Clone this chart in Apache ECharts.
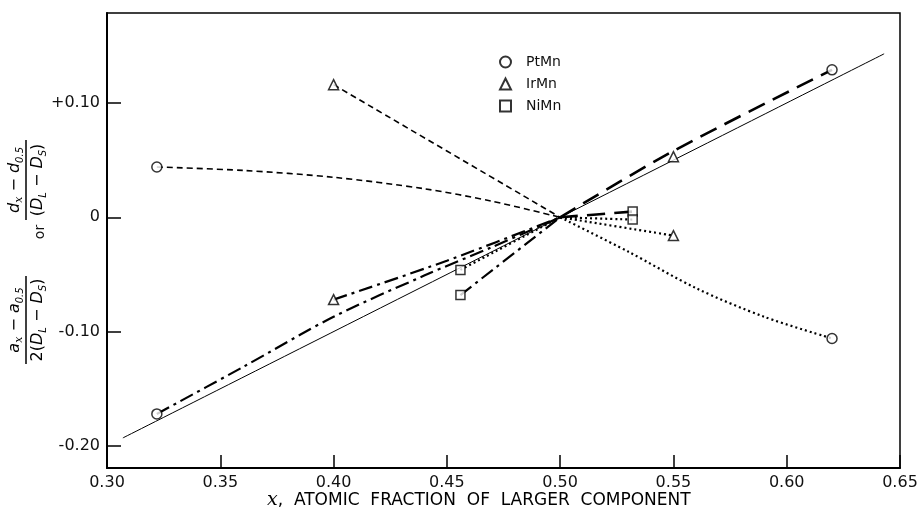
<!DOCTYPE html>
<html>
<head>
<meta charset="utf-8">
<script src="https://cdn.jsdelivr.net/npm/echarts@6/dist/echarts.min.js"></script>
<style>
  html, body { margin: 0; padding: 0; background: #fff; }
  #chart { width: 922px; height: 519px; }
</style>
</head>
<body>
<div id="chart"></div>
<script>
// tick labels
const xTicks = [0.30, 0.35, 0.40, 0.45, 0.50, 0.55, 0.60, 0.65];
const yTicks = [-0.20, -0.10, 0, 0.10];
const yTickLabels = ["-0.20", "-0.10", "0", "+0.10"];

// measured points (x, y)
const ptMnX = [0.322, 0.322, 0.620, 0.620];
const ptMnY = [0.044, -0.172, 0.129, -0.106];
const irMnX = [0.400, 0.400, 0.550, 0.550];
const irMnY = [0.116, -0.072, 0.053, -0.016];
const niMnX = [0.456, 0.456, 0.532, 0.532];
const niMnY = [-0.046, -0.068, 0.005, -0.002];

// curves
const solidLine = [[0.307, -0.193], [0.643, 0.143]];
const shortDash = [
  [[0.322, 0.044], [0.360, 0.041], [0.400, 0.035], [0.440, 0.025], [0.470, 0.014], [0.500, 0]],
  [[0.400, 0.116], [0.500, 0]],
];
const dashDot = [
  [[0.322, -0.172], [0.360, -0.131], [0.400, -0.087], [0.440, -0.051], [0.470, -0.026], [0.500, 0]],
  [[0.400, -0.072], [0.450, -0.038], [0.500, 0]],
  [[0.456, -0.068], [0.500, 0]],
];
const longDash = [
  [[0.500, 0], [0.550, 0.058], [0.620, 0.129]],
  [[0.500, 0], [0.532, 0.005]],
];
const dotted = [
  [[0.500, 0], [0.530, -0.030], [0.560, -0.062], [0.590, -0.087], [0.620, -0.106]],
  [[0.500, 0], [0.550, -0.016]],
  [[0.500, 0], [0.532, -0.002]],
  [[0.456, -0.046], [0.500, 0]],
];

const zip = (xs, ys) => xs.map((x, i) => [x, ys[i]]);

const chart = echarts.init(document.getElementById("chart"));

const lineSeries = (data, style) => ({
  type: "line",
  data: data,
  smooth: 0.3,
  symbol: "none",
  silent: true,
  z: 2,
  lineStyle: Object.assign({ color: "#000" }, style),
});

let series = [];
series.push(lineSeries(solidLine, { width: 1, type: "solid" }));
shortDash.forEach((d) => series.push(lineSeries(d, { width: 1.6, type: [6, 4] })));
dashDot.forEach((d) => series.push(lineSeries(d, { width: 2.2, type: [14, 5, 3, 5] })));
longDash.forEach((d) => series.push(lineSeries(d, { width: 2.6, type: [18, 9] })));
dotted.forEach((d) => series.push(lineSeries(d, { width: 2.2, type: [2, 3] })));

const markerStyle = { color: "#fff", borderColor: "#000", borderWidth: 1.5 };
series.push({ name: "PtMn", type: "scatter", symbol: "circle", symbolSize: 10, data: zip(ptMnX, ptMnY), itemStyle: markerStyle, z: 5 });
series.push({ name: "IrMn", type: "scatter", symbol: "triangle", symbolSize: 10, data: zip(irMnX, irMnY), itemStyle: markerStyle, z: 5 });
series.push({ name: "NiMn", type: "scatter", symbol: "rect", symbolSize: 9, data: zip(niMnX, niMnY), itemStyle: markerStyle, z: 5 });

const rich = {
  i: { fontFamily: "DejaVu Sans", fontStyle: "italic", fontSize: 16, lineHeight: 20, color: "#111" },
  v: { fontFamily: "DejaVu Serif", fontStyle: "italic", fontSize: 11, lineHeight: 11, padding: [9, 0, 0, 0], verticalAlign: "top", color: "#111" },
  s: { fontFamily: "DejaVu Sans", fontStyle: "italic", fontSize: 10, lineHeight: 10, padding: [10, 0, 0, 0], verticalAlign: "top", color: "#111" },
  n: { fontFamily: "DejaVu Sans", fontSize: 16, lineHeight: 20, color: "#111" },
};

const fraction = (cy, num, den, half) => ({
  type: "group",
  x: 26,
  y: cy,
  rotation: Math.PI / 2,
  children: [
    { type: "text", x: 0, y: -11, style: { text: num, rich: rich, align: "center", verticalAlign: "middle" } },
    { type: "line", shape: { x1: -half, y1: 0, x2: half, y2: 0 }, style: { stroke: "#000", lineWidth: 1.5 } },
    { type: "text", x: 0, y: 12, style: { text: den, rich: rich, align: "center", verticalAlign: "middle" } },
  ],
});

chart.setOption({
  animation: false,
  backgroundColor: "#fff",
  grid: { left: 107, top: 13, right: 22, bottom: 51, show: true, borderColor: "#000", borderWidth: 1.5 },
  legend: {
    orient: "vertical",
    left: 494,
    top: 50,
    itemWidth: 11,
    itemHeight: 11,
    itemGap: 8,
    textStyle: { fontFamily: "DejaVu Sans", fontSize: 14, fontWeight: 500, color: "#111", padding: [0, 0, 0, 10] },
    data: ["PtMn", "IrMn", "NiMn"],
  },
  xAxis: {
    type: "value",
    min: 0.30,
    max: 0.65,
    splitLine: { show: false },
    axisLine: { onZero: false, lineStyle: { color: "#000", width: 2 } },
    axisTick: { inside: true, length: 13, customValues: xTicks, lineStyle: { color: "#000", width: 1.5 } },
    axisLabel: {
      customValues: xTicks,
      margin: 7,
      fontFamily: "DejaVu Sans",
      fontSize: 16,
      color: "#111",
      formatter: (v) => v.toFixed(2),
    },
  },
  yAxis: {
    type: "value",
    min: -0.2193,
    max: 0.1787,
    splitLine: { show: false },
    axisLine: { onZero: false, lineStyle: { color: "#000", width: 2 } },
    axisTick: { inside: true, length: 14, customValues: yTicks, lineStyle: { color: "#000", width: 1.5 } },
    axisLabel: {
      customValues: yTicks,
      margin: 7,
      fontFamily: "DejaVu Sans",
      fontSize: 16,
      color: "#111",
      formatter: (v) => {
        const k = yTicks.findIndex((t) => Math.abs(t - v) < 1e-9);
        return k >= 0 ? yTickLabels[k] : "";
      },
    },
  },
  graphic: [
    fraction(180, "{i|d}{v|x}{n| − }{i|d}{s|0.5}", "{n|(}{i|D}{s|L}{n| − }{i|D}{s|S}{n|)}", 40),
    fraction(320, "{i|a}{v|x}{n| − }{i|a}{s|0.5}", "{n|2(}{i|D}{s|L}{n| − }{i|D}{s|S}{n|)}", 44),
    {
      type: "text",
      x: 40,
      y: 232,
      rotation: Math.PI / 2,
      style: { text: "or", fontFamily: "DejaVu Sans", fontSize: 14, fill: "#111", align: "center", verticalAlign: "middle" },
    },
    {
      type: "text",
      left: 267,
      top: 491,
      style: {
        text: "{x|x}{n|,  ATOMIC  FRACTION  OF  LARGER  COMPONENT}",
        rich: {
          x: { fontFamily: "DejaVu Serif", fontStyle: "italic", fontSize: 19, lineHeight: 22, color: "#111" },
          n: { fontFamily: "DejaVu Sans", fontSize: 17, lineHeight: 22, color: "#111" },
        },
      },
    },
  ],
  series: series,
});

window.addEventListener("resize", () => {
  chart && chart.resize();
});
</script>
</body>
</html>
